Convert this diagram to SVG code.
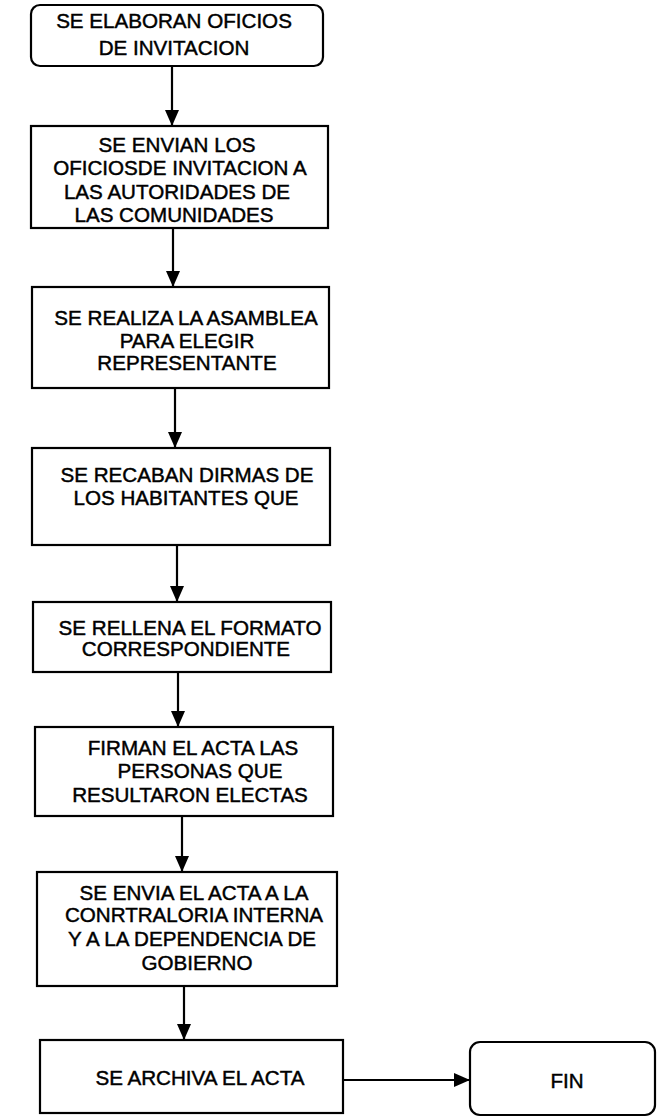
<svg xmlns="http://www.w3.org/2000/svg" width="657" height="1118" viewBox="0 0 657 1118">
<defs>
<style>
.box{fill:#fff;stroke:#000;stroke-width:2.2}
.t{font-family:"Liberation Sans",Arial,sans-serif;font-size:20.6px;fill:#000;text-anchor:middle;stroke:#000;stroke-width:0.45}
.c{stroke:#000;stroke-width:2.2;fill:none}
</style>
<marker id="ah" viewBox="0 0 16 14" refX="16" refY="7" markerWidth="16" markerHeight="14" markerUnits="userSpaceOnUse" orient="auto">
<path d="M0,0 L16,7 L0,14 Z" fill="#000"/>
</marker>
</defs>
<rect width="657" height="1118" fill="#fff"/>
<g id="connectors">
<line class="c" x1="172" y1="66" x2="172" y2="126" marker-end="url(#ah)"/>
<line class="c" x1="173" y1="228" x2="173" y2="287" marker-end="url(#ah)"/>
<line class="c" x1="175" y1="388" x2="175" y2="448" marker-end="url(#ah)"/>
<line class="c" x1="177" y1="545" x2="177" y2="602" marker-end="url(#ah)"/>
<line class="c" x1="178" y1="672" x2="178" y2="727" marker-end="url(#ah)"/>
<line class="c" x1="182" y1="816" x2="182" y2="872" marker-end="url(#ah)"/>
<line class="c" x1="184" y1="986" x2="184" y2="1040" marker-end="url(#ah)"/>
<line class="c" x1="343" y1="1080" x2="470" y2="1080" marker-end="url(#ah)"/>
</g>
<g id="n1">
<rect class="box" x="31" y="5" width="292" height="61" rx="9"/>
<text class="t" x="174" y="28">SE ELABORAN OFICIOS</text>
<text class="t" x="174" y="55">DE INVITACION</text>
</g>
<g id="n2">
<rect class="box" x="31" y="126" width="297" height="102"/>
<text class="t" x="177" y="152">SE ENVIAN LOS</text>
<text class="t" x="180" y="175">OFICIOSDE INVITACION A</text>
<text class="t" x="177" y="199">LAS AUTORIDADES DE</text>
<text class="t" x="174" y="222">LAS COMUNIDADES</text>
</g>
<g id="n3">
<rect class="box" x="32" y="287" width="297" height="101"/>
<text class="t" x="186" y="325">SE REALIZA LA ASAMBLEA</text>
<text class="t" x="187" y="348">PARA ELEGIR</text>
<text class="t" x="187" y="370">REPRESENTANTE</text>
</g>
<g id="n4">
<rect class="box" x="32" y="448" width="298" height="97"/>
<text class="t" x="187" y="482">SE RECABAN DIRMAS DE</text>
<text class="t" x="186" y="505">LOS HABITANTES QUE</text>
</g>
<g id="n5">
<rect class="box" x="33" y="602" width="298" height="70"/>
<text class="t" x="190" y="635">SE RELLENA EL FORMATO</text>
<text class="t" x="186" y="656">CORRESPONDIENTE</text>
</g>
<g id="n6">
<rect class="box" x="35" y="727" width="298" height="89"/>
<text class="t" x="193" y="755">FIRMAN EL ACTA LAS</text>
<text class="t" x="200" y="778">PERSONAS QUE</text>
<text class="t" x="190" y="802">RESULTARON ELECTAS</text>
</g>
<g id="n7">
<rect class="box" x="37" y="872" width="300" height="114"/>
<text class="t" x="194" y="900">SE ENVIA EL ACTA A LA</text>
<text class="t" x="194" y="922">CONRTRALORIA INTERNA</text>
<text class="t" x="192" y="946">Y A LA DEPENDENCIA DE</text>
<text class="t" x="197" y="970">GOBIERNO</text>
</g>
<g id="n8">
<rect class="box" x="40" y="1040" width="303" height="73"/>
<text class="t" x="200" y="1085">SE ARCHIVA EL ACTA</text>
</g>
<g id="n9">
<rect class="box" x="470" y="1042" width="185" height="73" rx="10"/>
<text class="t" x="567" y="1088">FIN</text>
</g>
</svg>
